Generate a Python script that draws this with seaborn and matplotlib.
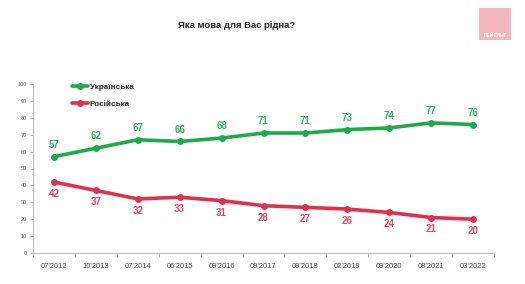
import numpy as np
import pandas as pd
import matplotlib
matplotlib.use("Agg")
import matplotlib.pyplot as plt
import seaborn as sns
from matplotlib.lines import Line2D

categories = ["07'2012", "10'2013", "07'2014", "06'2015", "09'2016", "09'2017",
              "09'2018", "02'2019", "09'2020", "08'2021", "03'2022"]
ukrainian = [57, 62, 67, 66, 68, 71, 71, 73, 74, 77, 76]
russian = [42, 37, 32, 33, 31, 28, 27, 26, 24, 21, 20]
series_names = ["Українська", "Російська"]
title = "Яка мова для Вас рідна?"

GREEN = "#1daa4a"
RED = "#e0304e"

sns.set_theme(style="white")
plt.rcParams['font.family'] = ['Liberation Sans', 'DejaVu Sans']

df = pd.DataFrame({
    "cat": categories * 2,
    "x": list(range(len(categories))) * 2,
    "val": ukrainian + russian,
    "series": [series_names[0]] * len(categories) + [series_names[1]] * len(categories),
})

fig = plt.figure(figsize=(5.25, 2.84), dpi=100)
ax = fig.add_axes([33 / 525, 31 / 284, 461 / 525, 169 / 284])

sns.lineplot(data=df, x="x", y="val", hue="series", palette=[GREEN, RED],
             marker="o", markersize=5, markeredgewidth=0, linewidth=2.6,
             ax=ax, legend=False)

for i, v in enumerate(ukrainian):
    ax.annotate(str(v), (i, v), xytext=(0, 5), textcoords="offset points",
                ha="center", va="bottom", color="#2fb25a", fontsize=7, fontweight="bold")
for i, v in enumerate(russian):
    ax.annotate(str(v), (i, v), xytext=(0, -5), textcoords="offset points",
                ha="center", va="top", color="#e04a62", fontsize=7, fontweight="bold")

ax.set_xlim(-0.5, len(categories) - 0.5)
ax.set_ylim(0, 100)
ax.set_yticks(range(0, 101, 10))
ax.set_yticklabels([str(t) for t in range(0, 101, 10)], fontsize=4, color="#555555")
ax.set_xticks(range(len(categories)))
ax.set_xticklabels(categories, fontsize=5.5, color="#444444")
ax.set_xticks(np.arange(-0.5, len(categories), 1), minor=True)
ax.tick_params(axis="x", which="major", length=0, pad=7)
ax.tick_params(axis="x", which="minor", length=3, width=0.6, color="#aaaaaa", bottom=True)
ax.tick_params(axis="y", length=2.5, width=0.6, color="#aaaaaa", left=True, pad=2)
ax.set_xlabel("")
ax.set_ylabel("")
for s in ["top", "right"]:
    ax.spines[s].set_visible(False)
for s in ["left", "bottom"]:
    ax.spines[s].set_color("#bbbbbb")
    ax.spines[s].set_linewidth(0.8)

# legend
handles = [Line2D([0], [0], color=GREEN, lw=2.6, marker="o", markersize=5, markeredgewidth=0),
           Line2D([0], [0], color=RED, lw=2.6, marker="o", markersize=5, markeredgewidth=0)]
leg = fig.legend(handles, series_names, loc="upper left", bbox_to_anchor=(65 / 525, 1 - 76 / 284),
                 frameon=False, handlelength=1.9, handletextpad=0.2,
                 labelspacing=1.1, prop={"weight": "bold", "size": 5.9})
for t in leg.get_texts():
    t.set_color("#222222")

fig.text(237 / 525, 1 - 25 / 284, title, ha="center", va="center",
         fontsize=6.8, fontweight="bold", color="#222222")

# logo
fig.patches.append(plt.Rectangle((479 / 525, 1 - 40 / 284), 32 / 525, 32 / 284,
                                 transform=fig.transFigure, facecolor="#f2b8bd",
                                 edgecolor="none"))
fig.text(495 / 525, 1 - 35 / 284, "РЕЙТИНГ", ha="center", va="center",
         fontsize=3.6, fontweight="bold", color="white")

fig.savefig("out.png", dpi=100)
